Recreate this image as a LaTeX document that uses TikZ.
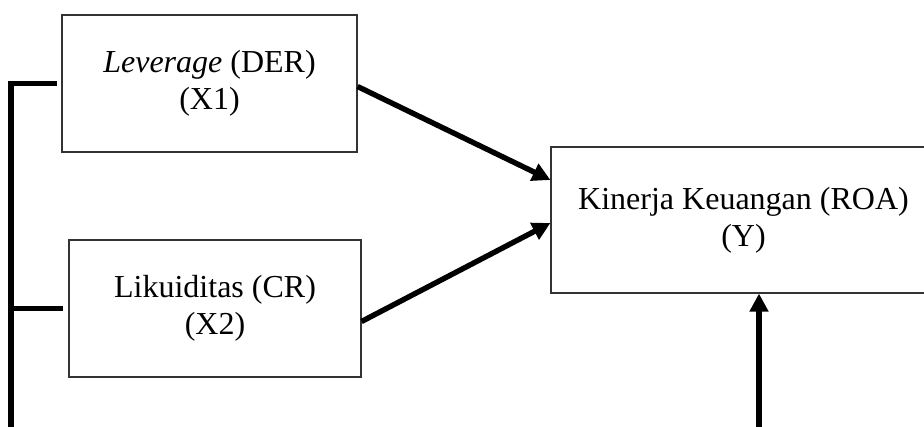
\documentclass[tikz,border=0pt]{standalone}
\usepackage{fontspec}
\setmainfont{Liberation Serif}
\usetikzlibrary{arrows.meta}

\begin{document}
\begin{tikzpicture}[x=1pt,y=-1pt,
  >={Triangle[length=18pt,width=18pt]},
  varbox/.style={draw=black!80,line width=1.1pt,fill=white,inner sep=0pt,align=center,
                 font=\fontsize{32}{36.8}\selectfont},
  link/.style={line width=5.4pt},
  linkarrow/.style={link,->}
]
\path[use as bounding box,clip] (0,0) rectangle (924,427);
% variables (independent on the left, dependent on the right)
\node[varbox,minimum width=295pt,minimum height=137pt] (x1) at (209.5,83.5) {\textit{Leverage} (DER)\\(X1)};
\node[varbox,minimum width=292pt,minimum height=137pt] (x2) at (215,308.5)  {Likuiditas (CR)\\(X2)};
\node[varbox,minimum width=385pt,minimum height=146pt] (y)  at (743.5,220)  {Kinerja Keuangan (ROA)\\(Y)};
% free ends below the picture
\coordinate (base) at (11,440);
\coordinate (yin)  at (759,440);

% joint bracket
\draw[link] (base) |- ([xshift=-4pt]x1.west);
\draw[link] (base |- x2.west) -- ([xshift=-5pt]x2.west);

% effects
\draw[linkarrow] ([yshift=-3pt]x1.east) -- ([yshift=40pt]y.west);
\draw[linkarrow] ([yshift=-13pt]x2.east) -- ([yshift=-3pt]y.west);
\draw[linkarrow] (yin) -- (yin |- y.south);
\end{tikzpicture}
\end{document}
